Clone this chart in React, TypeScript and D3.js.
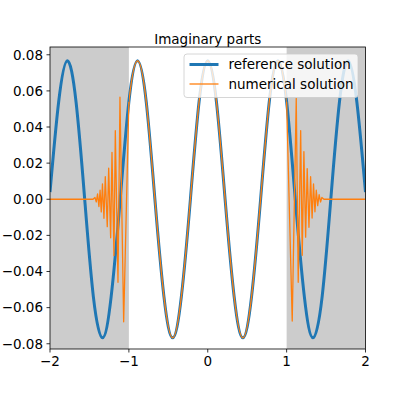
import React from 'react';
import * as d3 from 'd3';

// reference solution (eighth-period samples)
const refX = [-2, -1.89, -1.78, -1.67, -1.56, -1.45, -1.335, -1.225, -1.11, -1.0, -0.89, -0.78, -0.67, -0.555, -0.445, -0.335, -0.22, -0.11,
  0, 0.11, 0.22, 0.335, 0.445, 0.555, 0.67, 0.78, 0.89, 1.0, 1.11, 1.225, 1.335, 1.45, 1.56, 1.67, 1.78, 1.89, 2];
const refY = [0.004, 0.054, 0.0767, 0.054, 0, -0.054, -0.0767, -0.054, 0, 0.054, 0.0767, 0.054, 0, -0.054, -0.0767, -0.054, 0, 0.054,
  0.0767, 0.054, 0, -0.054, -0.0767, -0.054, 0, 0.054, 0.0767, 0.054, 0, -0.054, -0.0767, -0.054, 0, 0.054, 0.0767, 0.054, 0.004];

// numerical solution bursts inside the grey layers
const numLeftX = [-2, -1.455, -1.43, -1.413, -1.397, -1.38, -1.365, -1.35, -1.335, -1.316, -1.299, -1.274, -1.256, -1.231, -1.214, -1.189, -1.172, -1.138, -1.113, -1.066, -1.0];
const numLeftY = [0, 0, 0.001, -0.0015, 0.003, -0.004, 0.005, -0.007, 0.0085, -0.0105, 0.0125, -0.0152, 0.0172, -0.0213, 0.026, -0.0312, 0.038, -0.046, 0.0565, -0.0678, 0.054];
const numRightX = [1.0, 1.071, 1.122, 1.147, 1.178, 1.198, 1.219, 1.241, 1.261, 1.283, 1.304, 1.323, 1.341, 1.359, 1.376, 1.394, 1.412, 1.43, 1.447, 1.473, 2];
const numRightY = [0.054, -0.0674, 0.0559, -0.046, 0.038, -0.031, 0.0264, -0.021, 0.017, -0.0155, 0.0125, -0.0104, 0.0085, -0.0069, 0.005, -0.0035, 0.0025, -0.0015, 0.001, 0, 0];

const xTicks = [-2, -1, 0, 1, 2];
const yTicks = [-0.08, -0.06, -0.04, -0.02, 0, 0.02, 0.04, 0.06, 0.08];
const shaded = [[-2, -1], [1, 2]];

const W = 406, H = 395;
const left = 50, right = 365.5, top = 47, bottom = 349;
const font = 'DejaVu Sans, sans-serif';
const blue = '#1f77b4', orange = '#ff7f0e';

const fmt = (v: number, d: number) => {
  const s = Math.abs(v).toFixed(d);
  return v < 0 ? '\u2212' + s : s;
};

export default function App() {
  const x = d3.scaleLinear().domain([-2, 2]).range([left, right]);
  const y = d3.scaleLinear().domain([-0.0829, 0.0843]).range([bottom, top]);

  const smooth = d3.line<number>().x((_, i) => x(refX[i])).y(d => y(d)).curve(d3.curveNatural);
  const lin = (xs: number[]) => d3.line<number>().x((_, i) => x(xs[i])).y(d => y(d));

  return (
    <div style={{position: 'absolute', left: 0, top: 0}}>
      <svg width={W} height={H} style={{display: 'block'}}>
        <rect x={0} y={0} width={W} height={H} fill="#fff" />
        <defs>
          <clipPath id="plot"><rect x={left} y={top} width={right - left} height={bottom - top} /></clipPath>
          <clipPath id="mid"><rect x={x(-1)} y={0} width={x(1) - x(-1)} height={H} /></clipPath>
        </defs>
        {shaded.map(([a, b], i) => (
          <rect key={i} x={x(a)} y={top} width={x(b) - x(a)} height={bottom - top} fill="#cccccc" />
        ))}
        <g clipPath="url(#plot)">
          <path d={smooth(refY) || ''} fill="none" stroke={blue} strokeWidth={3} />
          <path d={lin(numLeftX)(numLeftY) || ''} fill="none" stroke={orange} strokeWidth={1.3} strokeLinejoin="round" />
          <path d={lin(numRightX)(numRightY) || ''} fill="none" stroke={orange} strokeWidth={1.3} strokeLinejoin="round" />
          <g clipPath="url(#mid)">
            <path d={smooth(refY) || ''} fill="none" stroke={orange} strokeWidth={1.3} />
          </g>
        </g>
        <rect x={left} y={top} width={right - left} height={bottom - top} fill="none" stroke="#000" strokeWidth={0.8} />
        {xTicks.map(t => (
          <g key={t}>
            <line x1={x(t)} x2={x(t)} y1={bottom} y2={bottom + 3.5} stroke="#000" strokeWidth={0.8} />
            <text x={x(t)} y={366} textAnchor="middle" fontFamily={font} fontSize={13.5}>{fmt(t, 0)}</text>
          </g>
        ))}
        {yTicks.map(t => (
          <g key={t}>
            <line x1={left - 3.5} x2={left} y1={y(t)} y2={y(t)} stroke="#000" strokeWidth={0.8} />
            <text x={left - 7} y={y(t)} dy="0.36em" textAnchor="end" fontFamily={font} fontSize={13.5}>{fmt(t, 2)}</text>
          </g>
        ))}
        <text x={(left + right) / 2} y={43.5} textAnchor="middle" fontFamily={font} fontSize={13.5}>Imaginary parts</text>
        <g>
          <rect x={184} y={54} width={174} height={43.5} rx={3} fill="#fff" fillOpacity={0.8} stroke="#cccccc" strokeWidth={0.8} />
          <line x1={189.5} x2={218.5} y1={64.5} y2={64.5} stroke={blue} strokeWidth={3} />
          <line x1={189.5} x2={218.5} y1={84} y2={84} stroke={orange} strokeWidth={1.3} />
          <text x={228.5} y={64.5} dy="0.36em" fontFamily={font} fontSize={13.5}>reference solution</text>
          <text x={228.5} y={84} dy="0.36em" fontFamily={font} fontSize={13.5}>numerical solution</text>
        </g>
      </svg>
    </div>
  );
}
